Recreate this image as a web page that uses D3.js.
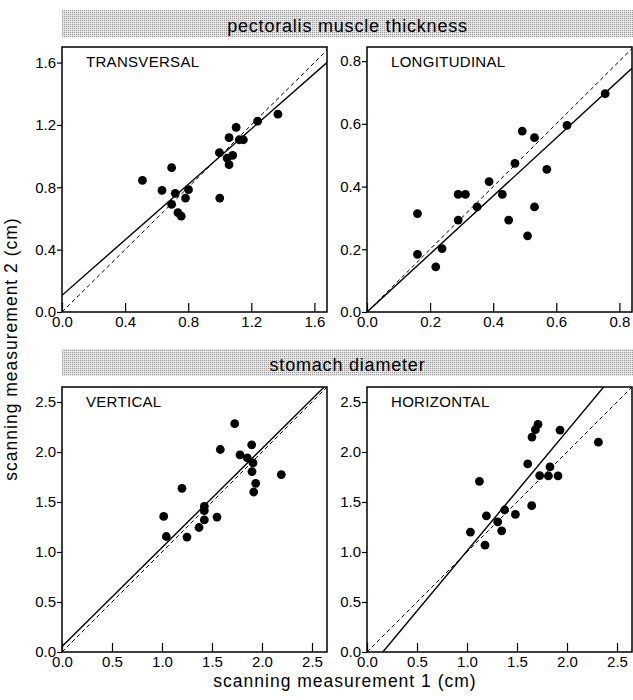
<!DOCTYPE html>
<html>
<head>
<meta charset="utf-8">
<script src="https://cdn.jsdelivr.net/npm/d3@7"></script>
<style>
  html, body { margin: 0; padding: 0; background: #fff; }
  svg { display: block; }
  text { font-family: "Liberation Sans", Arial, Helvetica, sans-serif; fill: #000; }
</style>
</head>
<body>
<svg id="chart" width="633" height="700"></svg>
<script>
// ---- data ----
const headerTitles = ["pectoralis muscle thickness", "stomach diameter"];
const panelLabels = ["TRANSVERSAL", "LONGITUDINAL", "VERTICAL", "HORIZONTAL"];

const transversalX = [0.51, 0.634, 0.695, 0.718, 0.802, 0.783, 0.695, 0.735, 0.756, 1.0, 0.998, 1.047, 1.082, 1.059, 1.059, 1.104, 1.124, 1.15, 1.24, 1.369];
const transversalY = [0.844, 0.78, 0.926, 0.761, 0.785, 0.731, 0.69, 0.637, 0.615, 0.731, 1.022, 0.987, 1.005, 0.945, 1.118, 1.184, 1.105, 1.105, 1.224, 1.269];

const longitudinalX = [0.16, 0.16, 0.218, 0.238, 0.289, 0.289, 0.312, 0.349, 0.387, 0.429, 0.449, 0.469, 0.492, 0.531, 0.509, 0.531, 0.57, 0.634, 0.755];
const longitudinalY = [0.314, 0.184, 0.144, 0.202, 0.293, 0.375, 0.375, 0.335, 0.416, 0.375, 0.293, 0.474, 0.577, 0.556, 0.243, 0.335, 0.455, 0.595, 0.696];

const verticalX = [1.727, 1.583, 1.897, 1.78, 1.853, 1.91, 1.9, 2.193, 1.937, 1.917, 1.2, 1.423, 1.423, 1.017, 1.55, 1.423, 1.37, 1.043, 1.25];
const verticalY = [2.283, 2.025, 2.072, 1.972, 1.941, 1.891, 1.804, 1.774, 1.687, 1.6, 1.637, 1.456, 1.413, 1.356, 1.349, 1.322, 1.245, 1.155, 1.149];

const horizontalX = [1.71, 1.684, 1.65, 1.93, 2.314, 1.607, 1.83, 1.727, 1.814, 1.91, 1.124, 1.647, 1.377, 1.194, 1.484, 1.307, 1.034, 1.347, 1.18];
const horizontalY = [2.276, 2.223, 2.149, 2.219, 2.098, 1.881, 1.851, 1.764, 1.761, 1.761, 1.707, 1.463, 1.42, 1.362, 1.376, 1.302, 1.199, 1.212, 1.068];

// regression lines (solid): y = intercept + slope * x ; dashed = line of identity
const fitIntercepts = [0.107, 0.0, 0.055, -0.19];
const fitSlopes = [0.889, 0.925, 0.99, 1.2];

const pectoralisTicks = [0.0, 0.4, 0.8, 1.2, 1.6];
const longitudinalTicks = [0.0, 0.2, 0.4, 0.6, 0.8];
const stomachTicks = [0.0, 0.5, 1.0, 1.5, 2.0, 2.5];

const axisMaxX = [1.68, 0.84, 2.65, 2.65];
const axisMaxY = [1.70, 0.845, 2.65, 2.65];

const xTitle = "scanning measurement 1 (cm)";
const yTitle = "scanning measurement 2 (cm)";

// ---- layout ----
const svg = d3.select("#chart");
const panelW = 265, panelH = 265;
const lefts = [62, 367, 62, 367];
const tops = [47, 47, 387, 387];
const allX = [transversalX, longitudinalX, verticalX, horizontalX];
const allY = [transversalY, longitudinalY, verticalY, horizontalY];
const allTicks = [pectoralisTicks, longitudinalTicks, stomachTicks, stomachTicks];

// dotted halftone header bands
const defs = svg.append("defs");
const pat = defs.append("pattern").attr("id", "halftone")
  .attr("width", 2).attr("height", 2).attr("patternUnits", "userSpaceOnUse");
pat.append("rect").attr("width", 2).attr("height", 2).attr("fill", "#e4e4e4");
pat.append("rect").attr("width", 1).attr("height", 1).attr("fill", "#9a9a9a");

const bandTops = [10, 349];
headerTitles.forEach((t, i) => {
  svg.append("rect").attr("x", 62).attr("y", bandTops[i]).attr("width", 571).attr("height", 27)
    .attr("fill", "url(#halftone)");
  svg.append("text").attr("x", 347.5).attr("y", bandTops[i] + 22)
    .attr("text-anchor", "middle").style("font-size", "18px").style("letter-spacing", "0.8px")
    .text(t);
});

for (let p = 0; p < 4; p++) {
  const g = svg.append("g").attr("transform", `translate(${lefts[p]},${tops[p]})`);
  const x = d3.scaleLinear().domain([0, axisMaxX[p]]).range([0, panelW]);
  const y = d3.scaleLinear().domain([0, axisMaxY[p]]).range([panelH, 0]);

  defs.append("clipPath").attr("id", "clip" + p)
    .append("rect").attr("width", panelW).attr("height", panelH);

  // x axis: ticks pointing inward (up)
  const xAxis = d3.axisTop(x).tickValues(allTicks[p]).tickFormat(d3.format(".1f")).tickSize(9);
  const xa = g.append("g").attr("transform", `translate(0,${panelH})`).call(xAxis);
  xa.select(".domain").remove();
  xa.selectAll(".tick line").attr("stroke", "#000").attr("stroke-width", 1.2);
  xa.selectAll(".tick text").style("font-size", "15px").attr("y", 15).attr("dy", "0");

  // y axis: ticks pointing outward
  const yAxis = d3.axisLeft(y).tickValues(allTicks[p]).tickFormat(d3.format(".1f")).tickSize(5).tickPadding(1);
  const ya = g.append("g").call(yAxis);
  ya.select(".domain").remove();
  ya.selectAll(".tick line").attr("stroke", "#000").attr("stroke-width", 1.2);
  ya.selectAll(".tick text").style("font-size", "15px");

  const clipped = g.append("g").attr("clip-path", `url(#clip${p})`);
  const m = Math.max(axisMaxX[p], axisMaxY[p]);
  // identity line (dashed)
  clipped.append("line")
    .attr("x1", x(0)).attr("y1", y(0)).attr("x2", x(m)).attr("y2", y(m))
    .attr("stroke", "#000").attr("stroke-width", 1).attr("stroke-dasharray", "4,3");
  // regression line (solid)
  const b = fitIntercepts[p], s = fitSlopes[p];
  const x0 = b < 0 ? -b / s : 0;
  clipped.append("line")
    .attr("x1", x(x0)).attr("y1", y(b + s * x0)).attr("x2", x(m)).attr("y2", y(b + s * m))
    .attr("stroke", "#000").attr("stroke-width", 1.4);

  // points
  const pts = allX[p].map((v, i) => [v, allY[p][i]]);
  g.selectAll("circle.pt").data(pts).enter().append("circle").attr("class", "pt")
    .attr("cx", d => x(d[0])).attr("cy", d => y(d[1])).attr("r", 4.4).attr("fill", "#000");

  // frame
  g.append("rect").attr("width", panelW).attr("height", panelH)
    .attr("fill", "none").attr("stroke", "#000").attr("stroke-width", 1.5);

  // panel label
  g.append("text").attr("x", 24).attr("y", 20).style("font-size", "15px").style("letter-spacing", "0.3px")
    .text(panelLabels[p]);
}

// axis titles
svg.append("text").attr("x", 345).attr("y", 687).attr("text-anchor", "middle")
  .style("font-size", "17.5px").style("letter-spacing", "1px").text(xTitle);
svg.append("text").attr("transform", "translate(17,349) rotate(-90)").attr("text-anchor", "middle")
  .style("font-size", "17.5px").style("letter-spacing", "1px").text(yTitle);
</script>
</body>
</html>
